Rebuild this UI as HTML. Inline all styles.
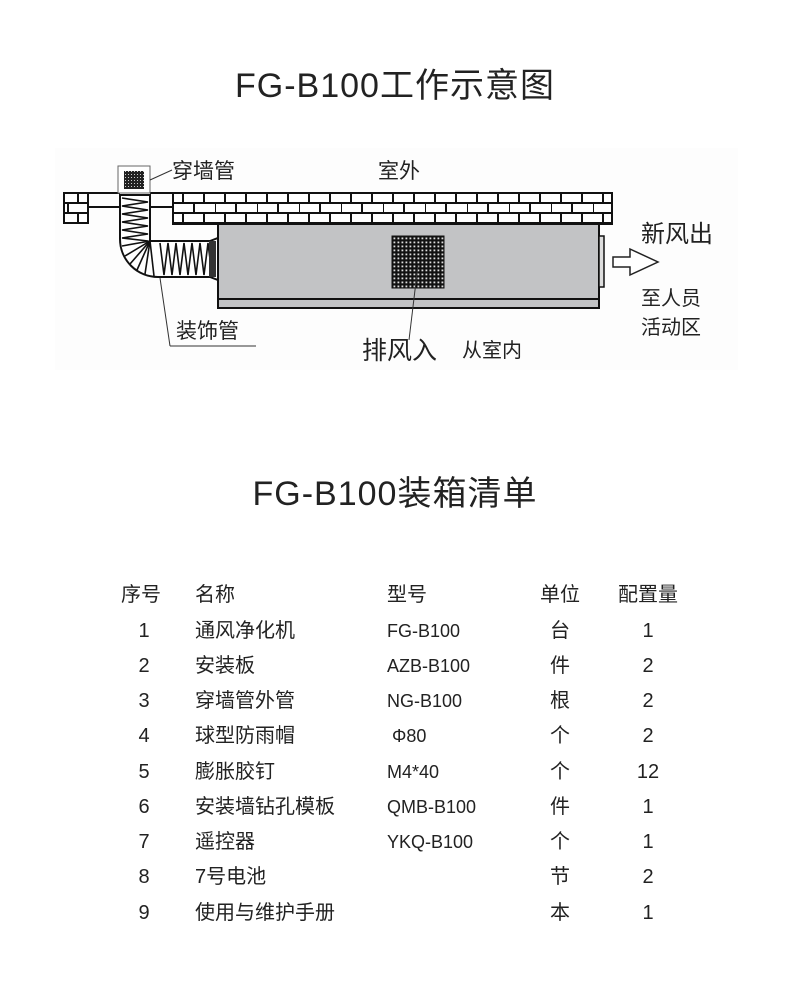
<!DOCTYPE html>
<html><head><meta charset="utf-8"><style>
html,body{margin:0;padding:0;background:#fff;}
svg{display:block;}
text{font-family:"Liberation Sans","Noto Sans CJK SC",sans-serif;fill:#222;}
</style></head><body>
<svg width="790" height="986" viewBox="0 0 790 986" xmlns="http://www.w3.org/2000/svg">
<defs>
<pattern id="brick" x="173" y="193" width="42" height="20" patternUnits="userSpaceOnUse">
<rect width="42" height="20" fill="#fff"/>
<path d="M0 0H42M0 10H42M0 20H42M10 0V10M31 0V10M0 10V20M21 10V20" stroke="#111" stroke-width="2"/>
</pattern>
<pattern id="grid" x="392" y="236" width="4" height="4" patternUnits="userSpaceOnUse">
<rect width="4" height="4" fill="#111"/><rect x="1.5" y="1.5" width="1.8" height="1.8" fill="#ddd"/>
</pattern>
<pattern id="grid2" x="124" y="170" width="3" height="3" patternUnits="userSpaceOnUse">
<rect width="3" height="3" fill="#222"/><rect x="1" y="1" width="1" height="1" fill="#ccc"/>
</pattern>
</defs>
<rect x="55" y="148" width="683" height="222" fill="#fdfdfd"/>
<text x="395" y="97" font-size="34" text-anchor="middle" letter-spacing="1">FG-B100工作示意图</text>

<rect x="64" y="193" width="24" height="30" fill="url(#brick)" stroke="#111" stroke-width="2"/>
<path d="M88 193H120M88 207H120M150 193H173M150 207H173" stroke="#111" stroke-width="2"/>
<rect x="173" y="193" width="439" height="31" fill="url(#brick)" stroke="#111" stroke-width="2"/>
<rect x="118" y="166" width="32" height="27" fill="#fff" stroke="#666" stroke-width="1"/>
<rect x="124" y="171" width="20" height="18" fill="url(#grid2)"/>
<line x1="150" y1="180" x2="172" y2="170" stroke="#333" stroke-width="1"/>
<rect x="218" y="224" width="381" height="75" fill="#c2c3c5" stroke="#111" stroke-width="2"/>
<rect x="218" y="299" width="381" height="9" fill="#c2c3c5" stroke="#111" stroke-width="2"/>
<rect x="599" y="236" width="5" height="51" fill="#ddd" stroke="#111" stroke-width="1.5"/>
<rect x="392" y="236" width="52" height="52" fill="url(#grid)" stroke="#111"/>
<path d="M120 195V239A38 38 0 0 0 158 277H210L218 280V238L210 241H150V195Z" fill="#fff" stroke="#111" stroke-width="2"/>
<path d="M122 198L148 202L122 206L148 210L122 214L148 218L122 222L148 226L122 230L148 234L122 238L148 241" fill="none" stroke="#111" stroke-width="1.6"/>
<path d="M160 243L164 275L168 243L172 275L176 243L180 275L184 243L188 275L192 243L196 275L200 243L204 275L208 243L212 275" fill="none" stroke="#111" stroke-width="1.6"/>
<g stroke="#111" stroke-width="1.6">
<line x1="150" y1="241" x2="122" y2="246"/><line x1="150" y1="241" x2="125" y2="256"/>
<line x1="150" y1="241" x2="130" y2="264"/><line x1="150" y1="241" x2="137" y2="270"/>
<line x1="150" y1="241" x2="145" y2="274"/><line x1="150" y1="241" x2="154" y2="276"/>
</g>
<rect x="209" y="241" width="7" height="36" fill="#333"/>
<line x1="160" y1="278" x2="170" y2="346" stroke="#333"/>
<line x1="170" y1="346" x2="256" y2="346" stroke="#333"/>
<line x1="418" y1="265" x2="409" y2="340" stroke="#333"/>
<path d="M613 257H630V249L658 262L630 275V267H613Z" fill="#fff" stroke="#222" stroke-width="1.5"/>
<text x="172" y="178" font-size="21">穿墙管</text>
<text x="378" y="178" font-size="21">室外</text>
<text x="641" y="242" font-size="24">新风出</text>
<text x="641" y="305" font-size="20">至人员</text>
<text x="641" y="334" font-size="20">活动区</text>
<text x="176" y="338" font-size="21">装饰管</text>
<text x="362" y="359" font-size="25">排风入</text>
<text x="462" y="357" font-size="20">从室内</text>

<text x="395" y="505" font-size="34" text-anchor="middle" letter-spacing="1">FG-B100装箱清单</text>

<g font-size="20">
<text x="121" y="601">序号</text><text x="195" y="601">名称</text><text x="387" y="601">型号</text><text x="560" y="601" text-anchor="middle">单位</text><text x="648" y="601" text-anchor="middle">配置量</text>
<g text-anchor="middle">
<text x="144" y="637">1</text><text x="144" y="672">2</text><text x="144" y="707">3</text><text x="144" y="742">4</text><text x="144" y="778">5</text><text x="144" y="813">6</text><text x="144" y="848">7</text><text x="144" y="883">8</text><text x="144" y="919">9</text>
<text x="560" y="637">台</text><text x="560" y="672">件</text><text x="560" y="707">根</text><text x="560" y="742">个</text><text x="560" y="778">个</text><text x="560" y="813">件</text><text x="560" y="848">个</text><text x="560" y="883">节</text><text x="560" y="919">本</text>
<text x="648" y="637">1</text><text x="648" y="672">2</text><text x="648" y="707">2</text><text x="648" y="742">2</text><text x="648" y="778">12</text><text x="648" y="813">1</text><text x="648" y="848">1</text><text x="648" y="883">2</text><text x="648" y="919">1</text>
</g>
<text x="195" y="637">通风净化机</text><text x="195" y="672">安装板</text><text x="195" y="707">穿墙管外管</text><text x="195" y="742">球型防雨帽</text><text x="195" y="778">膨胀胶钉</text><text x="195" y="813">安装墙钻孔模板</text><text x="195" y="848">遥控器</text><text x="195" y="883">7号电池</text><text x="195" y="919">使用与维护手册</text>
<g font-size="18">
<text x="387" y="637">FG-B100</text><text x="387" y="672">AZB-B100</text><text x="387" y="707">NG-B100</text><text x="392" y="742">Φ80</text><text x="387" y="778">M4*40</text><text x="387" y="813">QMB-B100</text><text x="387" y="848">YKQ-B100</text>
</g>
</g>
</svg>
</body></html>
